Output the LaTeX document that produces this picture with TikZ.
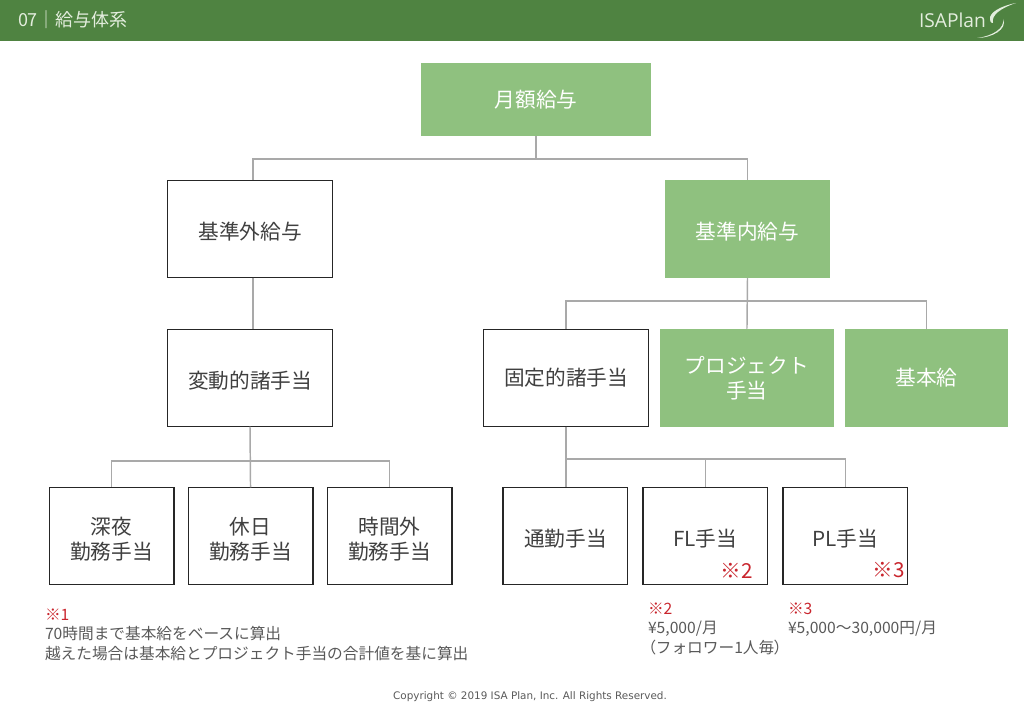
\documentclass[tikz,border=0pt]{standalone}
\usepackage{fontspec}
\setmainfont{Noto Sans CJK JP}
\newfontfamily\copyfont{DejaVu Sans}
\newfontfamily\logofont{Open Sans}
\usetikzlibrary{positioning}
\definecolor{headgreen}{HTML}{4F8341}
\definecolor{paleleaf}{HTML}{E3EDDD}
\definecolor{boxgreen}{HTML}{8FC17F}
\definecolor{linkgray}{HTML}{A9A9A9}
\definecolor{notered}{HTML}{C9252D}
\definecolor{notegray}{HTML}{595959}
\newcommand{\lowfirst}{\rule{0pt}{17.5pt}}

\begin{document}
\begin{tikzpicture}[
  x = 0.75pt, y = -0.75pt,
  every node/.style = {inner sep = 0pt, outer sep = 0pt, align = center, font = \fontsize{15.5}{19}\selectfont, text = black!75},
  lowtext/.style = {execute at begin node = {\rule{0pt}{16.5pt}}},
  plainbox/.style = {draw = black!85, line width = 1.05pt, fill = white},
  greenbox/.style = {fill = boxgreen, text = white},
  midsize/.style = {minimum width = 123.75pt, minimum height = 73pt},
  leafsize/.style = {minimum width = 93.5pt, minimum height = 73pt},
  link/.style = {draw = linkgray, line width = 1.1pt},
  mark2/.style = {text = notered, font = \fontsize{15.5}{18}\selectfont},
  note/.style = {anchor = north west, align = left, text = notegray, font = \fontsize{11.76}{14.4}\selectfont},
  node distance = 38.75pt
]
  \useasboundingbox (0,0) rectangle (1024,709);

  % header
  \fill[headgreen] (0,0) rectangle (1024,41);
  \node[anchor = west, text = paleleaf, font = \fontsize{13.5}{16}\selectfont] (title) at (18,20) {07｜給与体系};
  \node[anchor = west, text = paleleaf, font = \logofont\fontsize{14.4}{16}\selectfont] (logo) at (919,20) {ISAPlan};
  \fill[paleleaf] (1016,3) .. controls (1000,6) and (989,13) .. (990,19) .. controls (990,22) and (992,24) .. (993,23)
    .. controls (991,15) and (1001,8) .. (1016,3);
  \fill[paleleaf] (1003,19) .. controls (1005,28) and (993,36) .. (977,38) .. controls (992,38) and (1008,29) .. (1003,19);

  % boxes
  \node[greenbox, minimum width = 172.5pt, minimum height = 54.75pt] (root) at (536,99.5) {月額給与};
  \node[plainbox, midsize, lowtext] (outer) at (250,229) {基準外給与};
  \node[greenbox, midsize, lowtext, minimum height = 73.5pt] (inner) at (747.5,229) {基準内給与};
  \node[plainbox, midsize, lowtext] (variable) [below=of outer] {変動的諸手当};
  \node[plainbox, midsize] (fixed) [right=113.25pt of variable] {固定的諸手当};
  \node[greenbox, midsize, minimum width = 130.5pt, minimum height = 74pt] (project) [right=8.6pt of fixed] {プロジェクト\\手当};
  \node[greenbox, midsize, minimum width = 122.25pt, minimum height = 74pt] (base) [right=8.25pt of project] {基本給};

  \node[plainbox, leafsize, xshift=0.4pt] (holiday) [below=45.5pt of variable] {\lowfirst 休日\\勤務手当};
  \node[plainbox, leafsize] (night) [left=10.75pt of holiday] {\lowfirst 深夜\\勤務手当};
  \node[plainbox, leafsize] (overtime) [right=10.75pt of holiday] {\lowfirst 時間外\\勤務手当};
  \node[plainbox, leafsize, lowtext, xshift=-0.5pt] (commute) [below=45.5pt of fixed] {通勤手当};
  \node[plainbox, leafsize, lowtext] (fl) [right=11.5pt of commute] {FL手当};
  \node[plainbox, leafsize, lowtext] (pl) [right=11.5pt of fl] {PL手当};

  \node[mark2, anchor = south east] (flmark) at (753,578) {※2};
  \node[mark2, anchor = south east] (plmark) at (905,578) {※3};

  % connectors
  \coordinate (rootjoin) at (536,159);
  \coordinate (innerjoin) at (747.5,301);
  \coordinate (variablejoin) at (250,461);
  \coordinate (fixedjoin) at (566,459);
  \draw[link] (root.south) -- (rootjoin) -| ([xshift=2.25pt]outer.north);
  \draw[link] (rootjoin) -| (inner.north);
  \draw[link] ([xshift=2.25pt]outer.south) -- ([xshift=2.25pt]variable.north);
  \draw[link] (inner.south) -- (project.north);
  \draw[link] (innerjoin) -| (fixed.north);
  \draw[link] (innerjoin) -| (base.north);
  \draw[link] (variable.south) -- (holiday.north);
  \draw[link] (variablejoin) -| (night.north);
  \draw[link] (variablejoin) -| (overtime.north);
  \draw[link] (fixed.south) -- (fixed.south |- commute.north);
  \draw[link] (fixedjoin) -| (fl.north);
  \draw[link] (fixedjoin) -| (pl.north);

  % notes
  \node[note] (note1) at (45,609) {\textcolor{notered}{※1}\\70時間まで基本給をベースに算出\\越えた場合は基本給とプロジェクト手当の合計値を基に算出};
  \node[note] (note2) at (648,603) {\textcolor{notered}{※2}\\¥5,000/月\\{\addfontfeature{RawFeature=+palt}（}フォロワー1人毎{\addfontfeature{RawFeature=+palt}）}};
  \node[note] (note3) at (788,603) {\textcolor{notered}{※3}\\¥5,000～30,000円/月};

  % footer
  \node[text = notegray, font = \copyfont\fontsize{7.8}{10}\selectfont] (copyright) at (530,697) {Copyright © 2019 ISA Plan, Inc. All Rights Reserved.};
\end{tikzpicture}
\end{document}
